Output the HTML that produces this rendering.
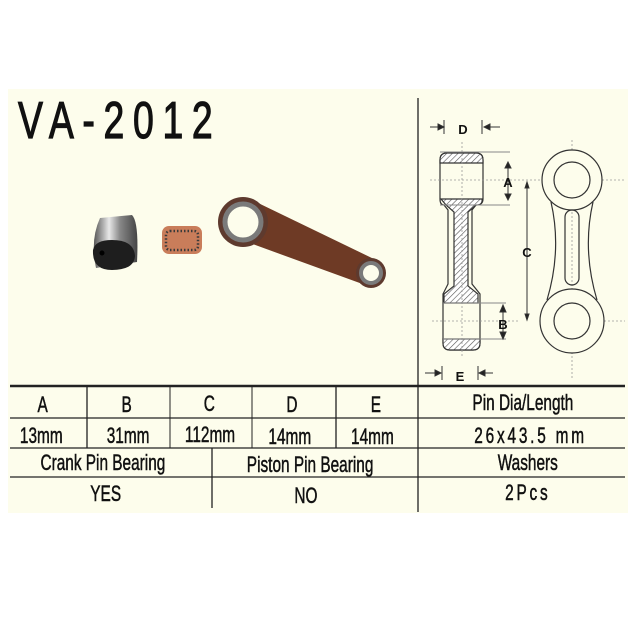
<!DOCTYPE html>
<html><head><meta charset="utf-8"><style>
body{margin:0;background:#fff;width:640px;height:630px;overflow:hidden}
svg{display:block}
text{font-family:"Liberation Sans",sans-serif;fill:#111}
.t text{stroke:#111;stroke-width:0.5}
</style></head><body>
<svg width="640" height="630" viewBox="0 0 640 630" xmlns="http://www.w3.org/2000/svg">
<defs>
<pattern id="h" width="4" height="4" patternUnits="userSpaceOnUse" patternTransform="rotate(45)">
<rect width="4" height="4" fill="#fff"/><line x1="0" y1="0" x2="0" y2="4" stroke="#555" stroke-width="1.2"/></pattern>
<linearGradient id="pin" x1="0" x2="1"><stop offset="0" stop-color="#555"/><stop offset="0.35" stop-color="#e8e8e8"/><stop offset="0.6" stop-color="#888"/><stop offset="1" stop-color="#444"/></linearGradient>
</defs>
<rect x="8" y="89" width="620" height="424" fill="#fdfdec"/>
<!-- title -->
<g class="t"><text x="18" y="138" font-size="52" transform="translate(18 0) scale(0.72 1) translate(-18 0)" letter-spacing="12" style="stroke-width:1.2">VA-2012</text></g>
<!-- photo: pin -->
<g>
<path d="M100 218 L132 215 Q139 222 137 262 L96 268 Q90 240 100 218Z" fill="url(#pin)"/>
<path d="M93 250 Q95 240 112 240 Q134 240 135 256 Q134 270 112 270 Q92 270 93 250Z" fill="#1e1e1e"/>
<circle cx="102" cy="253" r="2.5" fill="#000"/>
<!-- bearing -->
<rect x="162" y="226" width="40" height="28" rx="7" fill="#c97d5a"/>
<rect x="166" y="231" width="32" height="19" rx="4" fill="none" stroke="#3a3a3a" stroke-width="2.5" stroke-dasharray="1.5 2"/>
<!-- rod -->
<path d="M252 200 L376 260 L368 286 L236 238Z" fill="#6e3a25"/>
<circle cx="243" cy="222" r="25" fill="#5e3a2e"/>
<circle cx="243" cy="222" r="18" fill="#fdfdec" stroke="#7a7a7a" stroke-width="5"/>
<circle cx="371" cy="273" r="15" fill="#5e3a2e"/>
<circle cx="371" cy="273" r="10" fill="#fdfdec" stroke="#7a7a7a" stroke-width="4"/>
</g>
<!-- divider -->
<line x1="418" y1="98" x2="418" y2="512" stroke="#222" stroke-width="1.3"/>
<!-- drawing side view -->
<g stroke="#333" stroke-width="1.2">
<path d="M440 160 Q440 153 447 153 L476 153 Q483 153 483 160 L483 199 Q483 205 476 205 L472 210 L472 284 L480 294 L480 343 Q480 350 473 350 L450 350 Q443 350 443 343 L443 294 L448 284 L448 210 L444 205 Q440 205 440 199Z" fill="#fdfdec"/>
<path d="M440 163 L440 160 Q440 153 447 153 L476 153 Q483 153 483 160 L483 163Z" fill="url(#h)"/>
<path d="M441 199 L482 199 Q483 205 476 205 L468 212 L468 286 L478 294 L478 303 L444 303 L444 294 L454 286 L454 212 L446 205Z" fill="url(#h)"/>
<path d="M443 339 L480 339 L480 343 Q480 350 473 350 L450 350 Q443 350 443 343Z" fill="url(#h)"/>
</g>
<g stroke="#999" stroke-width="0.8" stroke-dasharray="2 2" fill="none">
<line x1="462" y1="142" x2="462" y2="358"/><line x1="430" y1="180" x2="625" y2="180"/>
<line x1="432" y1="321" x2="520" y2="321"/><line x1="540" y1="321" x2="625" y2="321"/>
<line x1="572" y1="140" x2="572" y2="380"/>
</g>
<!-- front view -->
<g stroke="#333" stroke-width="1.2" fill="none">
<path d="M551 202 Q562 250 547 300"/><path d="M593 202 Q582 250 597 300"/>
<circle cx="572" cy="180" r="30" fill="#fdfdec"/><circle cx="572" cy="180" r="18"/>
<circle cx="572" cy="321" r="32" fill="#fdfdec"/><circle cx="572" cy="321" r="18"/>
<rect x="565" y="210" width="14" height="75" rx="7"/>
</g>
<!-- dims -->
<g stroke="#333" stroke-width="1" fill="#222">
<line x1="440" y1="152" x2="510" y2="152" stroke="#888"/><line x1="440" y1="205" x2="510" y2="205" stroke="#888"/>
<line x1="508" y1="163" x2="508" y2="198"/><path d="M505 168 L508 162 L511 168Z"/><path d="M505 194 L508 200 L511 194Z"/>
<line x1="443" y1="303" x2="506" y2="303" stroke="#888"/><line x1="443" y1="339" x2="506" y2="339" stroke="#888"/>
<line x1="503" y1="306" x2="503" y2="337"/><path d="M500 312 L503 305 L506 312Z"/><path d="M500 332 L503 339 L506 332Z"/>
<line x1="527" y1="182" x2="527" y2="320"/><path d="M525 188 L527 182 L529 188Z"/><path d="M525 314 L527 320 L529 314Z"/>
<line x1="430" y1="127" x2="444" y2="127"/><path d="M438 124 L444 127 L438 130Z"/><line x1="444" y1="120" x2="444" y2="134"/>
<line x1="484" y1="127" x2="500" y2="127"/><path d="M490 124 L484 127 L490 130Z"/><line x1="482" y1="120" x2="482" y2="134"/>
<line x1="425" y1="373" x2="441" y2="373"/><path d="M435 370 L441 373 L435 376Z"/><line x1="442" y1="366" x2="442" y2="380"/>
<line x1="479" y1="373" x2="493" y2="373"/><path d="M485 370 L479 373 L485 376Z"/><line x1="478" y1="366" x2="478" y2="380"/>
</g>
<g font-size="13" font-weight="bold" text-anchor="middle">
<text x="463" y="134">D</text><text x="508" y="187">A</text><text x="503" y="329">B</text><text x="527" y="257">C</text><text x="460" y="381">E</text>
</g>
<!-- table -->
<g stroke="#222" fill="none">
<line x1="10" y1="386" x2="625" y2="386" stroke-width="2.5"/>
<line x1="10" y1="418" x2="625" y2="418" stroke-width="1.2"/>
<line x1="10" y1="448" x2="625" y2="448" stroke-width="1.2"/>
<line x1="10" y1="477" x2="625" y2="477" stroke-width="1.2"/>
<line x1="87" y1="386" x2="87" y2="448" stroke-width="1.3"/>
<line x1="170" y1="386" x2="170" y2="448" stroke-width="1"/>
<line x1="252" y1="386" x2="252" y2="448" stroke-width="1"/>
<line x1="336" y1="386" x2="336" y2="448" stroke-width="1.3"/>
<line x1="212" y1="448" x2="212" y2="508" stroke-width="1.3"/>
</g>
<g class="t" font-size="22" text-anchor="middle">
<g transform="scale(0.7 1)">
<text x="61" y="412">A</text><text x="181" y="412">B</text><text x="299" y="411">C</text><text x="417" y="412">D</text><text x="537" y="412">E</text>
<text x="747" y="410">Pin Dia/Length</text>
<text x="59" y="443">13mm</text><text x="183" y="443">31mm</text><text x="300" y="442">112mm</text><text x="414" y="444">14mm</text><text x="532" y="444">14mm</text>
<text x="758" y="443" letter-spacing="4">26x43.5 mm</text>
<text x="147" y="470">Crank Pin Bearing</text><text x="443" y="472">Piston Pin Bearing</text><text x="754" y="470">Washers</text>
<text x="151" y="501">YES</text><text x="437" y="503">NO</text><text x="754" y="500" letter-spacing="4">2Pcs</text>
</g></g>
</svg>
</body></html>
